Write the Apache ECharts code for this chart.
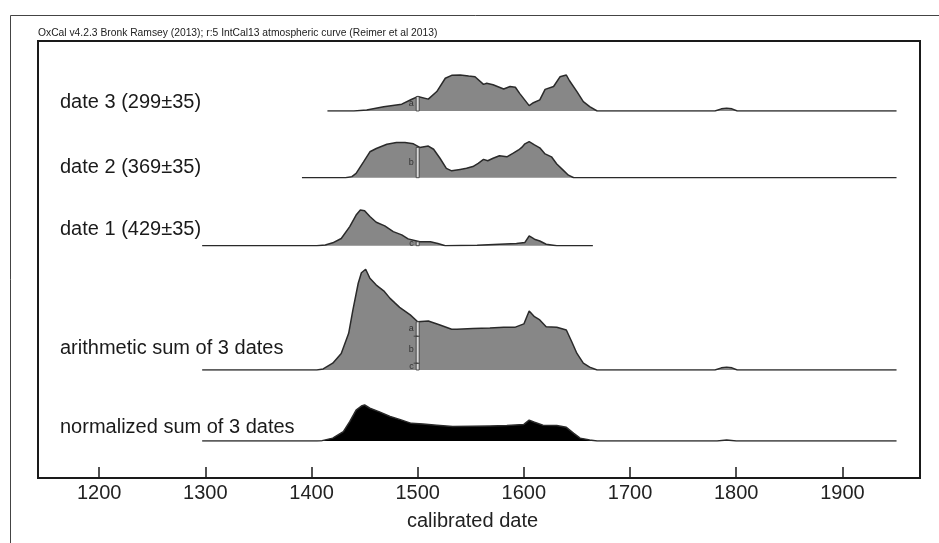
<!DOCTYPE html>
<html>
<head>
<meta charset="utf-8">
<title>OxCal summed probability</title>
<script src="https://cdn.jsdelivr.net/npm/echarts@6/dist/echarts.min.js"></script>
<style>
  html, body { margin: 0; padding: 0; background: #fff; }
  #chart { width: 939px; height: 543px; }
</style>
</head>
<body>
<div id="chart"></div>
<script>
// calibrated years (AD) and relative probability (peak of a single date = 1)
const date3 = [[1415,0],[1440,0],[1452,0.03],[1468,0.12],[1485,0.19],[1494,0.32],[1500,0.40],[1510,0.33],[1518,0.54],[1526,0.91],[1532,0.99],[1540,1.00],[1548,0.97],[1554,0.95],[1562,0.74],[1565,0.77],[1571,0.73],[1581,0.61],[1587,0.68],[1592,0.66],[1596,0.49],[1605,0.15],[1609,0.23],[1615,0.31],[1620,0.60],[1628,0.68],[1634,0.95],[1640,1.00],[1643,0.84],[1650,0.54],[1656,0.26],[1662,0.12],[1669,0],[1780,0],[1786,0.06],[1791,0.08],[1796,0.06],[1801,0],[1951,0]];
const date2 = [[1391,0],[1432,0],[1438,0.03],[1442,0.12],[1449,0.44],[1455,0.72],[1461,0.81],[1471,0.93],[1480,0.98],[1488,0.98],[1496,0.94],[1502,0.84],[1510,0.88],[1515,0.79],[1521,0.54],[1527,0.26],[1532,0.19],[1540,0.23],[1546,0.26],[1552,0.31],[1557,0.40],[1562,0.51],[1566,0.47],[1571,0.54],[1577,0.61],[1584,0.58],[1590,0.68],[1595,0.77],[1598,0.84],[1601,0.94],[1605,1.00],[1610,0.91],[1615,0.83],[1620,0.66],[1626,0.58],[1631,0.38],[1637,0.21],[1642,0.07],[1647,0],[1951,0]];
const date1 = [[1297,0],[1405,0],[1413,0.02],[1420,0.08],[1428,0.20],[1436,0.53],[1442,0.85],[1446,0.99],[1450,0.97],[1455,0.81],[1461,0.65],[1469,0.55],[1477,0.39],[1485,0.30],[1491,0.19],[1502,0.11],[1512,0.11],[1519,0.06],[1526,0],[1556,0.01],[1593,0.06],[1601,0.09],[1605,0.27],[1610,0.18],[1615,0.13],[1621,0.04],[1631,0],[1665,0]];
const arithmeticSum = [[1297,0],[1405,0],[1411,0.03],[1420,0.19],[1428,0.46],[1435,1.02],[1439,1.67],[1444,2.41],[1447,2.70],[1451,2.80],[1455,2.55],[1461,2.36],[1468,2.20],[1474,1.99],[1479,1.85],[1483,1.74],[1493,1.53],[1500,1.34],[1510,1.36],[1521,1.25],[1532,1.13],[1537,1.13],[1552,1.15],[1568,1.17],[1581,1.19],[1592,1.19],[1600,1.28],[1601,1.31],[1605,1.64],[1610,1.48],[1615,1.39],[1621,1.20],[1631,1.19],[1640,1.11],[1645,0.79],[1650,0.46],[1656,0.19],[1662,0.08],[1669,0],[1780,0],[1786,0.06],[1791,0.08],[1796,0.06],[1801,0],[1951,0]];
const normalizedSum = [[1297,0],[1405,0],[1410,0.01],[1420,0.08],[1430,0.26],[1436,0.54],[1442,0.86],[1447,0.97],[1450,1.00],[1455,0.91],[1464,0.81],[1474,0.68],[1483,0.60],[1494,0.49],[1505,0.47],[1518,0.44],[1533,0.40],[1552,0.41],[1568,0.42],[1584,0.43],[1600,0.46],[1605,0.58],[1610,0.52],[1618,0.44],[1631,0.43],[1640,0.38],[1647,0.21],[1653,0.08],[1662,0.03],[1669,0],[1782,0],[1791,0.03],[1800,0],[1951,0]];

// boundary markers at 1500: [year, from, to, letter]
const date3Marks = [[1500, 0, 0.40, 'a']];
const date2Marks = [[1500, 0, 0.84, 'b']];
const date1Marks = [[1500, 0, 0.11, 'c']];
const sumMarks = [[1500, 0, 0.19, 'c'], [1500, 0.19, 0.94, 'b'], [1500, 0.94, 1.34, 'a']];

const rowLabels = ['date 3 (299±35)', 'date 2 (369±35)', 'date 1 (429±35)', 'arithmetic sum of 3 dates', 'normalized sum of 3 dates'];
const tickYears = [1200, 1300, 1400, 1500, 1600, 1700, 1800, 1900];
const headerText = 'OxCal v4.2.3 Bronk Ramsey (2013); r:5 IntCal13 atmospheric curve (Reimer et al 2013)';

const FONT = "'Liberation Sans', Arial, Helvetica, sans-serif";
const X_MIN = 1142.4, X_MAX = 1973.1;
const PLOT_LEFT = 38, PLOT_TOP = 41, PLOT_W = 882, PLOT_H = 437;
const ROW_H = 108;          // pixels for 3 units of probability
const baselines = [111, 177.7, 245.7, 370, 441];
const labelY = [102, 167, 229, 348, 427];

const rows = [
  { data: date3, marks: date3Marks, fill: '#878787' },
  { data: date2, marks: date2Marks, fill: '#878787' },
  { data: date1, marks: date1Marks, fill: '#878787' },
  { data: arithmeticSum, marks: sumMarks, fill: '#878787' },
  { data: normalizedSum, marks: [], fill: '#000000' }
];

function bracketRenderer(marks) {
  return function (params, api) {
    const m = marks[params.dataIndex];
    const top = api.coord([m[0], m[2]]);
    const bot = api.coord([m[0], m[1]]);
    const x = top[0];
    const kids = [
      { type: 'rect', shape: { x: x - 1.5, y: top[1], width: 3, height: bot[1] - top[1] },
        style: { fill: '#d8d8d8', stroke: '#333', lineWidth: 0.8 } },
      { type: 'text', style: { text: m[3], x: x - 4, y: (top[1] + bot[1]) / 2, align: 'right',
        verticalAlign: 'middle', fontSize: 9, fontFamily: FONT, fill: '#333' } }
    ];
    if (m[1] > 0) {
      kids.push({ type: 'line', shape: { x1: x - 4, y1: bot[1], x2: x, y2: bot[1] },
        style: { stroke: '#333', lineWidth: 0.8 } });
    }
    return { type: 'group', children: kids };
  };
}

const grids = [], xAxes = [], yAxes = [], series = [];
rows.forEach((r, i) => {
  grids.push({ left: PLOT_LEFT, width: PLOT_W, top: baselines[i] - ROW_H, height: ROW_H });
  xAxes.push({ gridIndex: i, type: 'value', min: X_MIN, max: X_MAX, show: false });
  yAxes.push({ gridIndex: i, type: 'value', min: 0, max: 3, show: false });
  series.push({
    type: 'line', xAxisIndex: i, yAxisIndex: i, data: r.data,
    symbol: 'none', smooth: false, silent: true,
    lineStyle: { color: '#2a2a2a', width: 1.5 },
    areaStyle: { color: r.fill, opacity: 1 },
    z: 2
  });
  if (r.marks.length) {
    series.push({
      type: 'custom', xAxisIndex: i, yAxisIndex: i, silent: true,
      data: r.marks.map(m => [m[0], m[1], m[2]]),
      renderItem: bracketRenderer(r.marks), z: 3
    });
  }
});

// frame + calendar axis
const axisIdx = rows.length;
grids.push({ left: PLOT_LEFT, width: PLOT_W, top: PLOT_TOP, height: PLOT_H,
  show: true, borderColor: '#1a1a1a', borderWidth: 2, backgroundColor: 'transparent' });
xAxes.push({
  gridIndex: axisIdx, type: 'value', min: X_MIN, max: X_MAX, position: 'bottom',
  axisLine: { show: true, lineStyle: { color: '#1a1a1a', width: 2 } },
  axisTick: { show: true, inside: true, length: 11, customValues: tickYears,
    lineStyle: { color: '#1a1a1a', width: 1.5 } },
  axisLabel: { show: true, customValues: tickYears, margin: 5, fontSize: 20,
    fontFamily: FONT, color: '#222', formatter: v => String(Math.round(v)) },
  splitLine: { show: false },
  name: 'calibrated date', nameLocation: 'middle', nameGap: 33,
  nameTextStyle: { fontSize: 20, fontFamily: FONT, color: '#222', padding: [0, 13, 0, 0] }
});
yAxes.push({ gridIndex: axisIdx, type: 'value', min: 0, max: 1, show: false });

const graphics = [
  { type: 'rect', left: 8, top: 13, shape: { width: 960, height: 560 },
    style: { fill: 'none', stroke: '#444', lineWidth: 1 }, z: 0 },
  { type: 'text', x: 38, y: 33, style: { text: headerText, fontSize: 10.3, fontFamily: FONT,
    fill: '#222', verticalAlign: 'middle' } }
];
rowLabels.forEach((t, i) => {
  graphics.push({ type: 'text', x: 60, y: labelY[i], style: { text: t, fontSize: 20,
    fontFamily: FONT, fill: '#1a1a1a', verticalAlign: 'middle' } });
});

const chart = echarts.init(document.getElementById('chart'));
chart.setOption({
  animation: false,
  backgroundColor: '#fff',
  grid: grids,
  xAxis: xAxes,
  yAxis: yAxes,
  series: series,
  graphic: graphics
});
</script>
</body>
</html>
